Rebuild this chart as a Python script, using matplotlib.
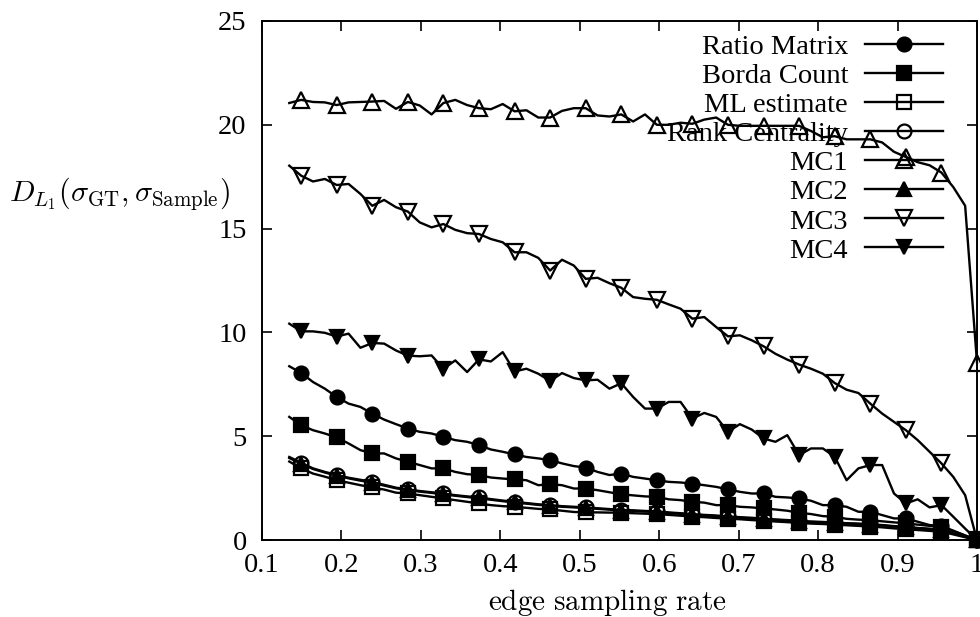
import numpy as np
import matplotlib
matplotlib.use("Agg")
import matplotlib.pyplot as plt

# sampling grid: i/67 for i = 9..67
rate = np.arange(9, 68) / 67.0

ratio_matrix = [8.37, 8.05, 7.61, 7.29, 6.89, 6.57, 6.41, 6.09, 5.80, 5.58,
                5.37, 5.21, 5.13, 4.97, 4.81, 4.73, 4.57, 4.36, 4.25, 4.12,
                4.00, 3.93, 3.85, 3.69, 3.56, 3.49, 3.28, 3.13, 3.20, 3.04,
                2.96, 2.88, 2.80, 2.77, 2.72, 2.64, 2.56, 2.44, 2.32, 2.24,
                2.24, 2.08, 2.05, 2.00, 1.89, 1.68, 1.68, 1.60, 1.36, 1.36,
                1.20, 1.04, 1.04, 0.88, 0.72, 0.67, 0.45, 0.22, 0.0]

borda_count = [5.93, 5.53, 5.29, 5.13, 4.94, 4.65, 4.33, 4.17, 4.17, 3.93,
               3.77, 3.61, 3.45, 3.45, 3.28, 3.17, 3.13, 3.01, 2.96, 2.92,
               2.88, 2.64, 2.69, 2.64, 2.48, 2.48, 2.40, 2.30, 2.20, 2.15,
               2.10, 2.08, 1.96, 1.92, 1.84, 1.80, 1.68, 1.68, 1.60, 1.57,
               1.52, 1.47, 1.41, 1.31, 1.25, 1.15, 1.12, 1.02, 0.98, 0.96,
               0.90, 0.85, 0.80, 0.74, 0.68, 0.64, 0.43, 0.21, 0.0]

ml_estimate = [3.78, 3.45, 3.20, 3.05, 2.88, 2.76, 2.64, 2.53, 2.43, 2.28,
               2.24, 2.16, 2.08, 2.00, 1.92, 1.84, 1.76, 1.68, 1.63, 1.60,
               1.55, 1.50, 1.47, 1.41, 1.35, 1.33, 1.33, 1.32, 1.32, 1.29,
               1.27, 1.25, 1.21, 1.17, 1.13, 1.10, 1.06, 1.03, 1.00, 0.96,
               0.93, 0.89, 0.86, 0.82, 0.79, 0.77, 0.74, 0.71, 0.68, 0.65,
               0.61, 0.56, 0.52, 0.48, 0.44, 0.40, 0.27, 0.13, 0.0]

rank_centrality = [4.00, 3.72, 3.45, 3.28, 3.13, 3.00, 2.90, 2.80, 2.66, 2.52,
                   2.44, 2.36, 2.30, 2.24, 2.16, 2.10, 2.05, 1.97, 1.90, 1.84,
                   1.78, 1.72, 1.68, 1.63, 1.60, 1.57, 1.53, 1.49, 1.45, 1.43,
                   1.40, 1.38, 1.33, 1.29, 1.25, 1.21, 1.18, 1.14, 1.10, 1.07,
                   1.03, 0.99, 0.96, 0.92, 0.89, 0.87, 0.84, 0.81, 0.79, 0.76,
                   0.72, 0.67, 0.63, 0.58, 0.54, 0.50, 0.33, 0.17, 0.0]

mc1 = [21.05, 21.20, 21.10, 21.08, 20.95, 21.08, 21.10, 21.12, 21.15, 20.77,
       21.10, 20.93, 20.50, 21.05, 21.20, 20.95, 20.80, 20.75, 21.00, 20.65,
       20.70, 20.35, 20.35, 20.67, 20.80, 20.80, 20.45, 20.40, 20.50, 20.16,
       20.50, 20.00, 20.00, 20.10, 20.05, 20.25, 20.35, 20.00, 19.95, 19.95,
       19.95, 19.95, 19.95, 19.95, 19.70, 19.40, 19.45, 19.30, 19.30, 19.30,
       19.15, 18.70, 18.45, 18.20, 18.05, 17.70, 17.00, 16.10, 8.55]

mc2 = [3.95, 3.68, 3.42, 3.25, 3.10, 2.97, 2.86, 2.76, 2.62, 2.49,
       2.41, 2.33, 2.27, 2.20, 2.13, 2.07, 2.01, 1.94, 1.87, 1.81,
       1.75, 1.69, 1.65, 1.60, 1.57, 1.54, 1.50, 1.46, 1.42, 1.40,
       1.37, 1.35, 1.30, 1.26, 1.22, 1.18, 1.15, 1.11, 1.07, 1.04,
       1.00, 0.97, 0.94, 0.90, 0.87, 0.85, 0.82, 0.79, 0.77, 0.74,
       0.70, 0.65, 0.61, 0.57, 0.53, 0.49, 0.32, 0.16, 0.0]

mc3 = [18.03, 17.55, 17.27, 17.39, 17.10, 17.15, 16.67, 16.10, 16.38, 16.03,
       15.82, 15.30, 15.06, 15.22, 14.94, 14.78, 14.74, 14.50, 14.34, 13.86,
       13.86, 13.59, 12.98, 13.50, 13.22, 12.58, 12.63, 12.37, 12.15, 11.70,
       11.62, 11.57, 11.35, 11.14, 10.66, 10.74, 10.26, 9.81, 9.86, 9.62,
       9.33, 8.97, 8.69, 8.45, 8.25, 8.01, 7.56, 7.24, 7.08, 6.57,
       6.09, 5.69, 5.29, 4.81, 4.25, 3.69, 3.04, 2.16, 0.0]

mc4 = [10.42, 10.05, 10.05, 9.98, 9.80, 9.94, 9.26, 9.49, 9.46, 9.13,
       8.88, 8.85, 8.89, 8.25, 8.65, 8.09, 8.70, 8.60, 9.05, 8.12,
       8.25, 8.01, 7.66, 8.04, 7.80, 7.69, 7.72, 7.29, 7.55, 6.89,
       6.33, 6.33, 6.65, 6.65, 5.85, 6.12, 5.93, 5.21, 5.58, 5.32,
       4.89, 4.73, 5.05, 4.09, 4.41, 4.41, 4.01, 2.88, 3.45, 3.61,
       3.61, 2.24, 1.76, 1.96, 1.57, 1.68, 1.12, 0.55, 0.0]

labels = ["Ratio Matrix", "Borda Count", "ML estimate", "Rank Centrality",
          "MC1", "MC2", "MC3", "MC4"]
series = [ratio_matrix, borda_count, ml_estimate, rank_centrality,
          mc1, mc2, mc3, mc4]
# (marker, filled, size)
styles = [("o", True, 10), ("s", True, 10.5), ("s", False, 10), ("o", False, 10),
          ("^", False, 11.5), ("^", True, 9.5), ("v", False, 11.5), ("v", True, 9.5)]

xticks = [0.1, 0.2, 0.3, 0.4, 0.5, 0.6, 0.7, 0.8, 0.9, 1.0]
xticklabels = ["0.1", "0.2", "0.3", "0.4", "0.5", "0.6", "0.7", "0.8", "0.9", "1"]
yticks = [0, 5, 10, 15, 20, 25]

plt.rcParams['font.family'] = ['Liberation Serif', 'DejaVu Serif']
plt.rcParams['mathtext.fontset'] = 'cm'

fig = plt.figure(figsize=(9.8, 6.17), dpi=100)
ax = fig.add_axes([262 / 980, 77 / 617, 715 / 980, 519 / 617])

lw = 1.7
for vals, (mk, filled, ms) in zip(series, styles):
    ax.plot(rate, vals, color="black", lw=lw, marker=mk, ms=ms,
            markevery=(1, 3), mfc="black" if filled else "none",
            mec="black", mew=1.6, clip_on=False, zorder=3)

ax.set_xlim(0.1, 1.0)
ax.set_ylim(0, 25)
ax.set_xticks(xticks)
ax.set_xticklabels(xticklabels)
ax.set_yticks(yticks)
ax.tick_params(direction="in", top=True, right=True, length=7, width=1.2,
               labelsize=20.5)
ax.tick_params(axis="x", pad=9)
ax.tick_params(axis="y", pad=11)
for sp in ax.spines.values():
    sp.set_linewidth(1.4)

# gnuplot style key: text right aligned, sample line to its right
ax_h = 519.0
ax_w = 715.0
for k, (lab, (mk, filled, ms)) in enumerate(zip(labels, styles)):
    y = (540 - 43.5 - 29.1 * k) / ax_h
    ax.plot([(865 - 262) / ax_w, (904 - 262) / ax_w, (943 - 262) / ax_w], [y, y, y],
            transform=ax.transAxes, color="black", lw=lw, marker=mk, ms=ms,
            markevery=[1], mfc="black" if filled else "none", mec="black",
            mew=1.6, clip_on=False, zorder=4)
    ax.text((848 - 262) / ax_w, y - 10.5 / ax_h, lab, transform=ax.transAxes,
            ha="right", va="baseline", fontsize=20.5, zorder=5)

fig.text(119 / 980, 1 - 194 / 617,
         r"$D_{L_1}(\sigma_{\mathrm{GT}},\sigma_{\mathrm{Sample}})$",
         ha="center", va="center", fontsize=21.5)
fig.text(607 / 980, 1 - 603 / 617, r"$\mathrm{edge\ sampling\ rate}$",
         ha="center", va="center", fontsize=21)

fig.savefig("out.png", dpi=100)
